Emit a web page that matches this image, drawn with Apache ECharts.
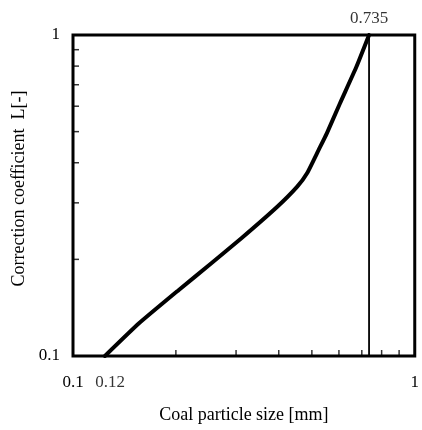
<!DOCTYPE html>
<html>
<head>
<meta charset="utf-8">
<script src="https://cdn.jsdelivr.net/npm/echarts@6/dist/echarts.min.js"></script>
<style>
  html, body { margin: 0; padding: 0; background: #fff; }
  #chart { width: 422px; height: 430px; }
</style>
</head>
<body>
<div id="chart"></div>
<script>
// curve (log-log)
const curveX = [0.124, 0.156, 0.204, 0.254, 0.311, 0.396, 0.453, 0.484, 0.523, 0.553, 0.604, 0.675, 0.735];
const curveY = [0.1, 0.1264, 0.1606, 0.1945, 0.2327, 0.2917, 0.337, 0.371, 0.438, 0.494, 0.612, 0.796, 1];
const markerX = 0.735;
const startX = 0.12;
const xMinorTicks = [0.2, 0.3, 0.4, 0.5, 0.6, 0.7, 0.8, 0.9];
const yMinorTicks = [0.2, 0.3, 0.4, 0.5, 0.6, 0.7, 0.8, 0.9];

const font = 'Liberation Serif, Times New Roman, serif';
const chart = echarts.init(document.getElementById('chart'), null, { renderer: 'canvas' });

const curveData = curveX.map((x, i) => [x, curveY[i]]);

chart.setOption({
  animation: false,
  grid: {
    left: 73, right: 3, top: 35, bottom: 74,
    show: true, borderColor: '#000', borderWidth: 3
  },
  xAxis: {
    type: 'log', logBase: 10, min: 0.1, max: 1,
    name: 'Coal particle size [mm]',
    nameLocation: 'middle', nameGap: 50,
    nameTextStyle: { color: '#000', fontFamily: font, fontSize: 18 },
    axisLine: { show: false },
    axisTick: { show: false },
    splitLine: { show: false },
    axisLabel: { color: '#000', fontFamily: font, fontSize: 17, margin: 18 }
  },
  yAxis: {
    type: 'log', logBase: 10, min: 0.1, max: 1,
    name: 'Correction coefficient  L[-]',
    nameLocation: 'middle', nameGap: 42,
    nameTextStyle: { color: '#000', fontFamily: font, fontSize: 18, padding: [0, 0, 0, 14] },
    axisLine: { show: false },
    axisTick: { show: false },
    splitLine: { show: false },
    axisLabel: { color: '#000', fontFamily: font, fontSize: 17, margin: 13 }
  },
  series: [
    {
      // minor ticks on the bottom axis, pointing inward
      type: 'scatter', clip: false, silent: true,
      symbol: 'rect', symbolSize: [1.5, 6], symbolOffset: [0, -3],
      itemStyle: { color: '#000' },
      data: xMinorTicks.map(v => [v, 0.1])
    },
    {
      // minor ticks on the left axis
      type: 'scatter', clip: false, silent: true,
      symbol: 'rect', symbolSize: [6, 1.5], symbolOffset: [3, 0],
      itemStyle: { color: '#000' },
      data: yMinorTicks.map(v => [0.1, v])
    },
    {
      type: 'line', silent: true, symbol: 'none',
      lineStyle: { color: '#000', width: 1.8 },
      data: [[markerX, 0.1], [markerX, 1]]
    },
    {
      type: 'line', silent: true, symbol: 'none', smooth: 0.15,
      lineStyle: { color: '#000', width: 4, join: 'round', cap: 'round' },
      data: curveData
    },
    {
      type: 'scatter', clip: false, silent: true, symbolSize: 0,
      label: {
        show: true, color: '#000', fontFamily: font, fontSize: 17,
        formatter: p => String(p.value[0])
      },
      data: [
        { value: [markerX, 1], label: { position: 'top', distance: 8 } },
        { value: [startX, 0.1], label: { position: 'bottom', distance: 18, offset: [10, 0] } }
      ]
    }
  ]
});
</script>
</body>
</html>
